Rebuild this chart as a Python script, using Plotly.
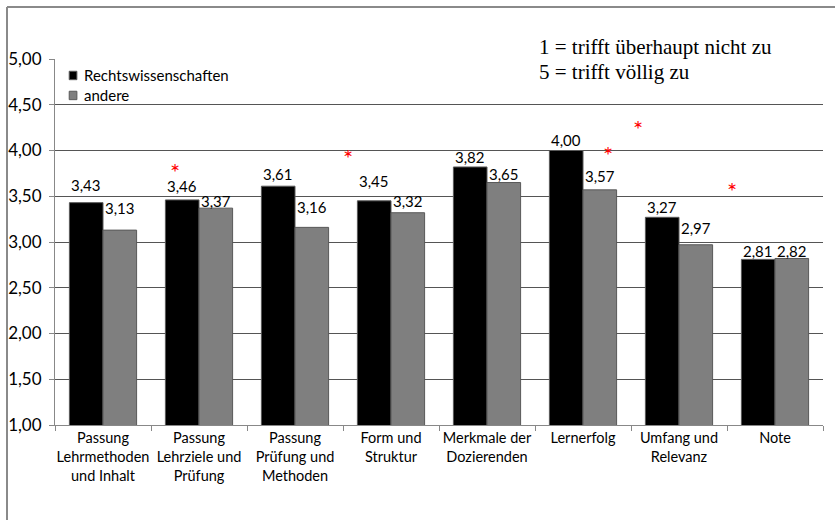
import plotly.graph_objects as go

# Evaluation dimensions (x-axis categories, multi-line tick labels)
categories = [
    "Passung<br>Lehrmethoden<br>und Inhalt",
    "Passung<br>Lehrziele und<br>Prüfung",
    "Passung<br>Prüfung und<br>Methoden",
    "Form und<br>Struktur",
    "Merkmale der<br>Dozierenden",
    "Lernerfolg",
    "Umfang und<br>Relevanz",
    "Note",
]

# Mean ratings per group
jura = [3.43, 3.46, 3.61, 3.45, 3.82, 4.00, 3.27, 2.81]
andere = [3.13, 3.37, 3.16, 3.32, 3.65, 3.57, 2.97, 2.82]

series_names = ["Rechtswissenschaften", "andere"]
series_colors = ["#000000", "#7f7f7f"]

# Significance markers: category position and rating level
star_x = [0.75, 2.55, 5.26, 5.57, 6.55]
star_y = [3.82, 3.98, 4.01, 4.29, 3.62]

# Scale legend text
scale_notes = ["1 = trifft überhaupt nicht zu", "5 = trifft völlig zu"]

# y-axis ticks
y_ticks = [1.0, 1.5, 2.0, 2.5, 3.0, 3.5, 4.0, 4.5, 5.0]

# Vertical pixel offsets of the value labels above each bar
label_lift_jura = [18, 14, 12, 20, 10, 11, 10, 8]
label_lift_andere = [22, 7, 20, 12, 9, 14, 17, 7]

LABEL_FONT = "Lato, 'Open Sans', sans-serif"
BAR_HALF = 16.8  # half bar width in px

fig = go.Figure()
for name, vals, col in zip(series_names, [jura, andere], series_colors):
    fig.add_trace(go.Bar(
        x=categories, y=vals, name=name, base=0, showlegend=False,
        marker=dict(color=col, line=dict(color="#595959", width=1)),
    ))


def fmt(v):
    return f"{v:.2f}".replace(".", ",")


annotations = []
for vals, lifts, sign in [(jura, label_lift_jura, -1), (andere, label_lift_andere, 1)]:
    for cat, v, lift in zip(categories, vals, lifts):
        annotations.append(dict(
            x=cat, y=v, xref="x", yref="y", text=fmt(v),
            showarrow=False, xshift=sign * BAR_HALF, yshift=lift, yanchor="middle",
            font=dict(family=LABEL_FONT, size=15, color="#000000"),
        ))
for sx, sy in zip(star_x, star_y):
    annotations.append(dict(
        x=sx, y=sy, xref="x", yref="y", text="*", showarrow=False,
        yanchor="middle", yshift=-5,
        font=dict(family=LABEL_FONT, size=24, color="#ff0000"),
    ))
for i, note in enumerate(scale_notes):
    annotations.append(dict(
        x=0.6276, y=1.033 - i * 0.0685, xref="paper", yref="paper",
        text=note, showarrow=False, xanchor="left", yanchor="middle",
        font=dict(family="'Liberation Serif', 'Times New Roman', serif", size=21, color="#000000"),
    ))

# Series key in the upper-left corner of the plot area
shapes = []
for i, (name, col) in enumerate(zip(series_names, series_colors)):
    yc = 0.955 - i * 0.0546
    shapes.append(dict(
        type="rect", xref="paper", yref="paper",
        x0=0.0185, x1=0.0285, y0=yc - 0.0115, y1=yc + 0.0115,
        fillcolor=col, line=dict(color="#595959", width=1),
    ))
    annotations.append(dict(
        x=0.0350, y=yc, xref="paper", yref="paper", text=name,
        showarrow=False, xanchor="left", yanchor="middle",
        font=dict(family=LABEL_FONT, size=15, color="#000000"),
    ))

# Outer frame (left and top edges)
frame = dict(type="line", xref="paper", yref="paper",
             line=dict(color="#8a8a8a", width=2), layer="above")
shapes += [
    dict(frame, x0=-0.0625, x1=-0.0625, y0=1.142, y1=-0.4),
    dict(frame, x0=-0.0625, x1=1.1, y0=1.142, y1=1.142),
]

fig.update_layout(
    width=835, height=520,
    margin=dict(l=55, r=12, t=59, b=95),
    paper_bgcolor="white", plot_bgcolor="white",
    separators=",.",
    barmode="group", bargap=0.30, bargroupgap=0.0,
    font=dict(family=LABEL_FONT, size=15, color="#000000"),
    annotations=annotations,
    shapes=shapes,
    xaxis=dict(
        type="category", tickson="boundaries", ticks="outside", ticklen=5,
        tickcolor="#888888", showline=True, linecolor="#888888", linewidth=1,
        showgrid=False, tickangle=0, automargin=False,
        tickfont=dict(size=14.5, family=LABEL_FONT, color="#000000"),
    ),
    yaxis=dict(
        range=[1, 5], tickvals=y_ticks, tickformat=".2f",
        ticks="outside", ticklen=5, tickcolor="#888888", ticklabelstandoff=4,
        showline=True, linecolor="#888888", linewidth=1, automargin=False,
        showgrid=True, gridcolor="#555555", gridwidth=1, zeroline=False,
        tickfont=dict(size=17, family=LABEL_FONT, color="#000000"),
    ),
)

fig.write_html("out.html")
